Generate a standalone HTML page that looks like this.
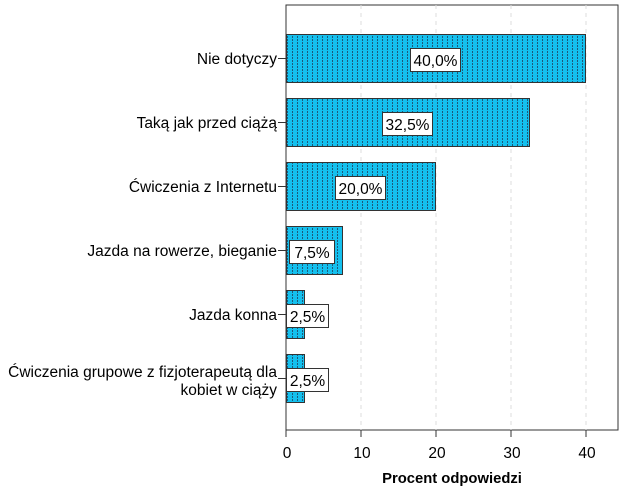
<!DOCTYPE html>
<html><head><meta charset="utf-8"><style>body{margin:0;background:#fff}svg{display:block}text{font-family:"Liberation Sans",sans-serif;fill:#000}</style></head><body>
<svg width="626" height="501" xmlns="http://www.w3.org/2000/svg">
<defs><pattern id="p" width="5" height="3" patternUnits="userSpaceOnUse"><rect width="5" height="3" fill="#14c0ee"/><rect x="2" y="0" width="1" height="2" fill="#1c5a7a"/></pattern></defs>
<rect x="286" y="5" width="332" height="425" fill="#fff" stroke="#333" stroke-width="1"/>
<g stroke="#ddd" stroke-dasharray="4,4"><line x1="361" y1="5" x2="361" y2="430"/><line x1="436" y1="5" x2="436" y2="430"/><line x1="511" y1="5" x2="511" y2="430"/><line x1="586" y1="5" x2="586" y2="430"/></g>
<g fill="url(#p)" stroke="#333" stroke-width="1">
<rect x="286.5" y="34.5" width="299" height="48"/>
<rect x="286.5" y="98.5" width="243" height="48"/>
<rect x="286.5" y="162.5" width="149" height="48"/>
<rect x="286.5" y="226.5" width="56" height="48"/>
<rect x="286.5" y="290.5" width="18" height="48"/>
<rect x="286.5" y="354.5" width="18" height="48"/>
</g>
<g stroke="#333"><line x1="286" y1="5" x2="286" y2="437"/>
<line x1="278" y1="58.5" x2="286" y2="58.5"/><line x1="278" y1="122.5" x2="286" y2="122.5"/><line x1="278" y1="186.5" x2="286" y2="186.5"/><line x1="278" y1="250.5" x2="286" y2="250.5"/><line x1="278" y1="314.5" x2="286" y2="314.5"/><line x1="278" y1="378.5" x2="286" y2="378.5"/>
<line x1="361" y1="430" x2="361" y2="437"/><line x1="436" y1="430" x2="436" y2="437"/><line x1="511" y1="430" x2="511" y2="437"/><line x1="586" y1="430" x2="586" y2="437"/></g>
<g font-size="15.5" text-anchor="end">
<text x="277" y="64">Nie dotyczy</text>
<text x="277" y="128">Taką jak przed ciążą</text>
<text x="277" y="192">Ćwiczenia z Internetu</text>
<text x="277" y="256">Jazda na rowerze, bieganie</text>
<text x="277" y="320">Jazda konna</text>
<text x="277" y="377">Ćwiczenia grupowe z fizjoterapeutą dla</text>
<text x="277" y="395">kobiet w ciąży</text>
</g>
<g fill="#fff" stroke="#333"><rect x="410.5" y="48.5" width="50" height="23"/><rect x="382.5" y="112.5" width="50" height="23"/><rect x="335.5" y="176.5" width="50" height="23"/><rect x="289.5" y="240.5" width="45" height="23"/><rect x="286.5" y="304.5" width="42" height="23"/><rect x="286.5" y="368.5" width="42" height="23"/></g>
<g font-size="15.5" text-anchor="middle">
<text x="435.5" y="66">40,0%</text><text x="407.5" y="130">32,5%</text><text x="360.5" y="194">20,0%</text><text x="312" y="258">7,5%</text><text x="307.5" y="322">2,5%</text><text x="307.5" y="386">2,5%</text>
<text x="287" y="458">0</text><text x="362" y="458">10</text><text x="437" y="458">20</text><text x="512" y="458">30</text><text x="587" y="458">40</text>
<text x="452" y="483" font-size="14.8" font-weight="bold">Procent odpowiedzi</text>
</g>
</svg>
</body></html>
